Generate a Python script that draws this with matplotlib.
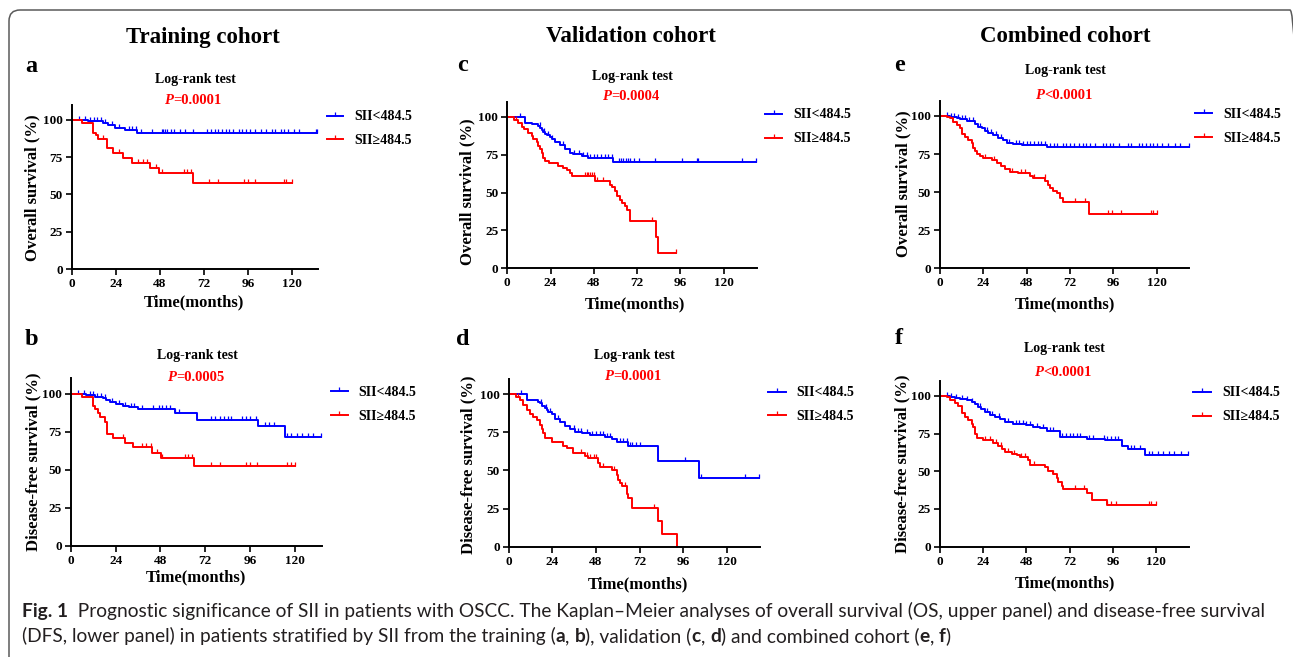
import numpy as np
import matplotlib
matplotlib.use("Agg")
import matplotlib.pyplot as plt
from matplotlib.patches import FancyBboxPatch
from matplotlib.lines import Line2D
from matplotlib.transforms import IdentityTransform

W, H = 1293, 657
BLUE = "#0000FF"
RED = "#FF0000"
SERIF = ["Liberation Serif", "DejaVu Serif"]
SANS = ["Lato", "DejaVu Sans"]

# ---- Kaplan-Meier curves (months, % surviving) ----
# a: overall survival, training cohort
a_low_t = [9, 17, 20, 23.6, 29, 35.4]
a_low_s = [99.2, 98.2, 96.8, 94.8, 93.0, 91.5]
a_low_c = [4, 7, 10, 12, 14, 16, 18, 22, 26, 31, 33, 35, 38, 44, 49, 50, 51, 52, 54, 56, 59,
           62, 66, 74, 76, 78, 80, 82, 84, 86, 88, 91, 93, 95, 97, 100, 103, 106, 109, 111,
           114, 116, 118, 121, 124, 133, 134]
a_high_t = [5.4, 11.4, 13, 14.5, 19.4, 22.7, 28, 32.7, 42.7, 47.7, 65.9]
a_high_s = [98.2, 91.5, 90, 87.5, 81.4, 78, 74.3, 71, 67.6, 64.2, 58]
a_high_c = [17, 26, 36, 39, 41, 46, 49, 61, 63, 65, 75, 80, 94, 96, 100, 116, 117, 120]

# b: disease-free survival, training cohort
b_low_t = [8, 13, 17, 19, 21, 24, 28, 31, 36, 55.8, 67.4, 100.5, 114.8]
b_low_s = [99, 98, 97, 96, 94.5, 93, 92, 91, 89.5, 87.3, 82.9, 78.5, 71.2]
b_low_c = [4, 7, 10, 12, 14, 16, 18, 22, 26, 29, 32, 34, 38, 44, 47, 49, 51, 53, 56, 58, 75,
           77, 80, 82, 84, 86, 92, 94, 96, 99, 104, 106, 109, 116, 118, 121, 124, 127, 130, 134]
b_high_t = [5.7, 12, 12.9, 14.7, 15.6, 18.2, 19.1, 22.7, 29, 33.4, 43.3, 48.1, 66.2]
b_high_s = [97.8, 91.6, 89.7, 87.3, 84.6, 81.1, 73.4, 70.8, 67.5, 64.6, 60.9, 57.6, 52.1]
b_high_c = [28, 38, 40, 43, 46, 49, 61, 63, 65, 75, 80, 94, 96, 100, 116, 118, 120]

# c: overall survival, validation cohort
c_low_t = [9.8, 13.5, 17.2, 18.1, 19, 20, 21, 22, 23.7, 24.8, 26.4, 29.2, 32, 34.8, 36.6, 41.2, 45, 58.8]
c_low_s = [96.2, 95.1, 94, 92.9, 91.5, 90, 89, 88, 87, 85.5, 83.4, 81.4, 78.5, 76.3, 75.2, 74, 73, 70.4]
c_low_c = [7, 18, 20.5, 22.5, 25, 31, 37, 40, 42, 44, 46, 48, 50, 52, 54, 56, 58, 62, 63, 64,
           66, 67, 68, 70, 73, 82, 97, 105, 106, 130, 138]
c_high_t = [3.7, 6.1, 8, 9.5, 11.6, 13.5, 14.4, 16.3, 17.2, 18.1, 19, 20, 20.9, 23.3, 28.3, 31,
            32.9, 34.8, 35.7, 48.6, 57, 57.9, 59.7, 60.7, 62.5, 63.4, 65.3, 66.5, 68, 82.5, 83.8]
c_high_s = [98, 96.2, 93, 91.8, 89.6, 87.4, 85.2, 83.4, 80.8, 78.5, 76.3, 73, 70.8, 69.2, 67.5,
            65.9, 64.8, 63, 60.8, 57.5, 55.3, 53.8, 50.9, 47.6, 45.4, 43.1, 40.9, 38.3, 31, 20.6, 10.4]
c_high_c = [5, 43, 44, 45, 46, 47, 48, 50, 53, 80, 93.6]

# d: disease-free survival, validation cohort
d_low_t = [10, 16.3, 17.2, 18.5, 20, 21, 21.8, 23.7, 25.5, 28.3, 31, 33.8, 36.5, 40.2, 44.8,
           53, 56.7, 59.4, 65.9, 82, 105]
d_low_s = [96, 95, 94, 92.5, 91, 89.5, 88.5, 86.8, 84, 81.5, 79, 77, 75.5, 74.5, 73.5, 72,
           70.5, 68.5, 65.9, 56, 45]
d_low_c = [7, 18, 20.5, 22.5, 27, 36, 38, 40, 43, 46, 48, 50, 52, 54, 56, 61, 63, 65, 67, 68,
           70, 72, 97, 106, 130, 138]
d_high_t = [4, 6.2, 8.1, 9.9, 11.7, 13.6, 15.4, 17.2, 18.2, 19.1, 20, 23.7, 30.1, 31.9, 35.6,
            42, 43.9, 49.4, 50.3, 56.7, 59.4, 60.4, 61.3, 62.2, 65, 65.9, 67.7, 82, 84.2, 92.8]
d_high_s = [98, 96, 93, 89.5, 86.8, 85, 83, 80, 77, 74.5, 71.5, 68.5, 66, 65, 61.5, 59.5, 58,
            55, 52.5, 50.5, 47, 44, 42, 39.5, 34.5, 32, 25.5, 17, 8.5, 0]
d_high_c = [5, 40, 43, 45, 47, 48, 52, 58, 64, 80]

# e: overall survival, combined cohort
e_low_t = [5.5, 9.2, 11, 14.8, 17.5, 19.4, 21.2, 23, 25, 26.8, 29.5, 32.3, 35, 37, 40.6, 45.2, 59]
e_low_s = [99.5, 98.5, 97.8, 97, 96.5, 95, 93, 92, 90, 88.8, 87.5, 85.5, 84, 82.5, 81.5, 80.9, 79.8]
e_low_c = [4, 6, 8, 10, 12, 14, 16, 18, 22, 26, 28, 31, 34, 38, 42, 44, 46, 48, 50, 52, 54, 56,
           58, 61, 63, 65, 68, 70, 72, 74, 77, 79, 81, 83, 86, 90, 92, 94, 96, 99, 104, 106, 110,
           112, 114, 116, 118, 120, 123, 126, 130, 133, 138]
e_high_t = [4, 5.5, 7.4, 9.2, 11, 12, 13.8, 15.7, 17.5, 18.5, 19.4, 20.3, 22, 24, 28.6, 31.4,
            34, 36, 38.8, 43.4, 49.8, 51.7, 58.2, 60, 61, 62.8, 64.6, 66.5, 68.3, 82.7]
e_high_s = [99.5, 98.5, 96, 94, 92, 88, 86, 84.5, 82, 79, 77, 75, 74, 72.5, 71, 69, 67, 65,
            63.5, 62.5, 60.5, 59, 57.5, 55, 53, 51, 49.5, 46, 43.5, 35.5]
e_high_c = [25, 30, 40, 45, 47, 52, 58, 75, 80, 93, 95, 100, 117, 118, 120]

# f: disease-free survival, combined cohort
f_low_t = [5.6, 8.3, 11, 14.8, 17.6, 19.4, 21.3, 23, 25, 27.8, 30.5, 33.3, 36, 40.7, 48, 51.8,
           55.5, 59.2, 63, 66.7, 81.5, 91.7, 101, 104.6, 113.9]
f_low_s = [99.5, 98.5, 97.8, 97, 96, 94.5, 92.5, 91, 89, 87.5, 86, 84.5, 82.5, 81.5, 80.5, 79.5,
           78.5, 77, 76.5, 72.8, 71.3, 70.5, 67, 64.5, 60.5]
f_low_c = [4, 6, 9, 12, 15, 18, 22, 26, 29, 33, 38, 42, 44, 46, 48, 50, 54, 57, 61, 63, 68, 70,
           72, 74, 76, 78, 83, 85, 91, 93, 95, 97, 99, 106, 108, 111, 116, 118, 121, 124, 127,
           130, 134, 138]
f_high_t = [4, 5.6, 8.3, 10.2, 12, 13.9, 15.7, 17.6, 18.5, 19.4, 20.4, 24, 29.6, 32.4, 34.3, 36,
            40, 42.6, 44.4, 49, 50, 58.3, 60.2, 63, 64.8, 65.7, 67.6, 68.5, 81.5, 84.3, 92.6]
f_high_s = [99, 97.5, 95, 93, 88.5, 86, 84, 81.5, 79, 75, 72, 70.5, 68.5, 67, 65, 63, 61.5,
            60.5, 59.5, 57.5, 54, 52.5, 50, 48, 45.5, 43, 40.5, 38, 35.5, 31, 27.7]
f_high_c = [25, 28, 31, 34, 38, 41, 45, 47, 52, 63, 75, 80, 93, 95, 98, 116, 117, 120]

p_values = ["=0.0001", "=0.0005", "=0.0004", "=0.0001", "<0.0001", "<0.0001"]
group_labels = ["SII<484.5", "SII\u2265484.5"]
x_ticks = [0, 24, 48, 72, 96, 120]
y_ticks = [0, 25, 50, 75, 100]
cohort_titles = ["Training cohort", "Validation cohort", "Combined cohort"]

plt.rcParams["font.family"] = SERIF
plt.rcParams["font.weight"] = "bold"

fig = plt.figure(figsize=(W / 100, H / 100), dpi=100)
renderer = fig.canvas.get_renderer()


def fx(x):
    return x / W


def fy(y):
    return 1 - y / H


def text_width(s, **kw):
    # width incl. trailing spaces: measure against a sentinel glyph
    t1 = fig.text(0, 0, s + "|", **kw)
    t2 = fig.text(0, 0, "|", **kw)
    w = t1.get_window_extent(renderer).width - t2.get_window_extent(renderer).width
    t1.remove()
    t2.remove()
    return w


def draw_runs(x, y, runs, ha="left", **kw):
    widths = [text_width(s, **{**kw, **st}) for s, st in runs]
    cur = x - (sum(widths) / 2 if ha == "center" else 0)
    for (s, st), w in zip(runs, widths):
        fig.text(fx(cur), fy(y), s, ha="left", va="baseline", **{**kw, **st})
        cur += w


def km_steps(times, surv, censors):
    end = max(max(times), max(censors))
    x = np.concatenate([[0], times, [end]])
    y = np.concatenate([[100], surv, [surv[-1]]])
    return x, y


def censor_y(times, surv, censors):
    idx = np.searchsorted(np.asarray(times), np.asarray(censors), side="right")
    levels = np.concatenate([[100], surv])
    return levels[idx]


panels = [
    # letter, rect(px: left, top, right, bottom), xmax, ylabel, low, high, text positions
    dict(letter="a", rect=(71.7, 105, 318, 269), xmax=134.3, ylabel="Overall survival (%)",
         low=(a_low_t, a_low_s, a_low_c), high=(a_high_t, a_high_s, a_high_c), p=p_values[0],
         letter_xy=(25, 71.7), lr_xy=(195, 83), p_xy=(193, 104), ylab_xy=(32.5, 188),
         xlab_xy=(194, 306), leg=(327, 343, 354, 116, 139)),
    dict(letter="b", rect=(71, 378.3, 321.7, 545.7), xmax=134.5, ylabel="Disease-free survival (%)",
         low=(b_low_t, b_low_s, b_low_c), high=(b_high_t, b_high_s, b_high_c), p=p_values[1],
         letter_xy=(25, 345), lr_xy=(197, 359), p_xy=(195.5, 381), ylab_xy=(33.5, 461.7),
         xlab_xy=(196, 581.5), leg=(331, 348, 358, 391, 415)),
    dict(letter="c", rect=(507.3, 101.7, 756.7, 268.3), xmax=138.3, ylabel="Overall survival (%)",
         low=(c_low_t, c_low_s, c_low_c), high=(c_high_t, c_high_s, c_high_c), p=p_values[2],
         letter_xy=(457, 71), lr_xy=(632, 80), p_xy=(631, 100), ylab_xy=(467.5, 191.7),
         xlab_xy=(635, 308), leg=(765, 782, 793, 114, 138)),
    dict(letter="d", rect=(508.7, 379, 760, 546.7), xmax=138.3, ylabel="Disease-free survival (%)",
         low=(d_low_t, d_low_s, d_low_c), high=(d_high_t, d_high_s, d_high_c), p=p_values[3],
         letter_xy=(456, 345), lr_xy=(634, 359), p_xy=(633, 380), ylab_xy=(468.5, 465),
         xlab_xy=(638, 588), leg=(768, 786, 796, 392, 415)),
    dict(letter="e", rect=(940, 100.7, 1189.3, 268.3), xmax=138.0, ylabel="Overall survival (%)",
         low=(e_low_t, e_low_s, e_low_c), high=(e_high_t, e_high_s, e_high_c), p=p_values[4],
         letter_xy=(894, 71), lr_xy=(1065, 74), p_xy=(1064, 99), ylab_xy=(903, 184),
         xlab_xy=(1064.7, 308), leg=(1195, 1212, 1223, 113, 137)),
    dict(letter="f", rect=(940, 380.7, 1189, 546.7), xmax=138.3, ylabel="Disease-free survival (%)",
         low=(f_low_t, f_low_s, f_low_c), high=(f_high_t, f_high_s, f_high_c), p=p_values[5],
         letter_xy=(895, 344), lr_xy=(1064.5, 351.5), p_xy=(1063, 376.5), ylab_xy=(902.5, 464),
         xlab_xy=(1065, 587), leg=(1193, 1211, 1222, 392, 416)),
]

for pnl in panels:
    l, t, r, b = pnl["rect"]
    ax = fig.add_axes([fx(l), fy(b), (r - l) / W, (b - t) / H])
    for (times, surv, cens), color in ((pnl["low"], BLUE), (pnl["high"], RED)):
        xs, ys = km_steps(times, surv, cens)
        ax.step(xs, ys, where="post", color=color, lw=1.4, clip_on=False)
        ax.plot(cens, censor_y(times, surv, cens), ls="none", marker=2, ms=2.6, mew=0.9,
                color=color, clip_on=False)
    ax.set_xlim(0, pnl["xmax"])
    ax.set_ylim(0, 110)
    ax.set_xticks(x_ticks)
    ax.set_yticks(y_ticks)
    for side in ("top", "right"):
        ax.spines[side].set_visible(False)
    for side in ("left", "bottom"):
        ax.spines[side].set_linewidth(1.4)
    ax.tick_params(direction="out", length=4, width=1.2, pad=2.5, labelsize=9.5)
    ax.patch.set_alpha(0)

    fig.text(fx(pnl["letter_xy"][0]), fy(pnl["letter_xy"][1]), pnl["letter"],
             fontsize=17.5, ha="left", va="baseline")
    fig.text(fx(pnl["lr_xy"][0]), fy(pnl["lr_xy"][1]), "Log-rank test",
             fontsize=10, ha="center", va="baseline")
    draw_runs(pnl["p_xy"][0], pnl["p_xy"][1],
              [("P", dict(style="italic")), (pnl["p"], dict())],
              ha="center", fontsize=10.5, color=RED, weight="bold")
    fig.text(fx(pnl["ylab_xy"][0]), fy(pnl["ylab_xy"][1]), pnl["ylabel"],
             fontsize=12, rotation=90, ha="center", va="center")
    fig.text(fx(pnl["xlab_xy"][0]), fy(pnl["xlab_xy"][1]), "Time(months)",
             fontsize=12, ha="center", va="baseline")

    x0, x1, xt, y_low, y_high = pnl["leg"]
    for yy, color, label in ((y_low, BLUE, group_labels[0]), (y_high, RED, group_labels[1])):
        fig.add_artist(Line2D([fx(x0), fx(x1)], [fy(yy), fy(yy)], color=color, lw=1.4))
        fig.add_artist(Line2D([fx((x0 + x1) / 2)], [fy(yy)], color=color, ls="none",
                              marker=2, ms=2.6, mew=0.9))
        fig.text(fx(xt), fy(yy + 4.5), label, fontsize=10, ha="left", va="baseline")

# column titles
for title, cx in zip(cohort_titles, (202.5, 630.8, 1065.5)):
    fig.text(fx(cx), fy(42.5), title, fontsize=16.5, ha="center", va="baseline")

# caption, sized so the first line spans the same width as in the source
cap_kw = dict(family=SANS, color="#231f20")
line1 = [("Fig. 1", dict(weight="bold")),
         ("  Prognostic significance of SII in patients with OSCC. The Kaplan\u2013Meier analyses "
          "of overall survival (OS, upper panel) and disease-free survival", dict(weight="normal"))]
line2 = [("(DFS, lower panel) in patients stratified by SII from the training (", "normal"),
         ("a", "bold"), (", ", "normal"), ("b", "bold"), ("), validation (", "normal"),
         ("c", "bold"), (", ", "normal"), ("d", "bold"), (") and combined cohort (", "normal"),
         ("e", "bold"), (", ", "normal"), ("f", "bold"), (")", "normal")]
line2 = [(s, dict(weight=w)) for s, w in line2]

w10 = sum(text_width(s, fontsize=10, **cap_kw, **st) for s, st in line1)
cap_size = 10 * 1240 / w10
draw_runs(22, 617, line1, fontsize=cap_size, **cap_kw)
draw_runs(22, 642, line2, fontsize=cap_size, **cap_kw)

# rounded outer frame (partly cut off on the right and bottom)
frame = FancyBboxPatch((9, H - 10 - 700), 1292, 700,
                       boxstyle="round,pad=0,rounding_size=11",
                       transform=IdentityTransform(), fill=False,
                       edgecolor="#5a5a5a", linewidth=1.1)
fig.add_artist(frame)

fig.savefig("out.png", dpi=100, facecolor="white")
